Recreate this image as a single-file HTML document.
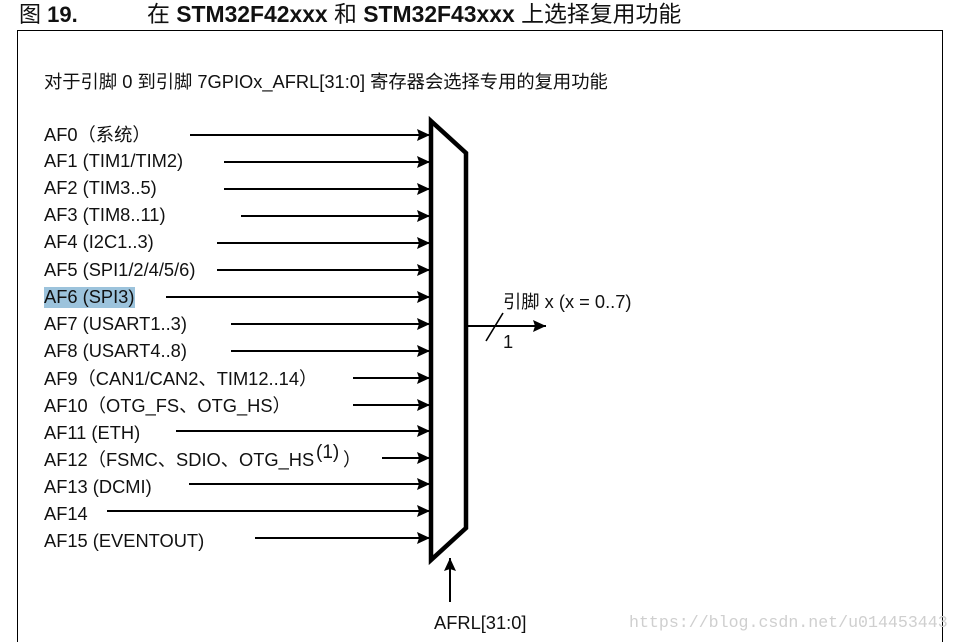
<!DOCTYPE html>
<html>
<head>
<meta charset="utf-8">
<style>
html,body{margin:0;padding:0;background:#fff;width:960px;height:642px;overflow:hidden}
svg{display:block}
text{font-family:"Liberation Sans","Noto Sans CJK SC",sans-serif;font-size:18.3px;fill:#111}
tspan.c{font-weight:normal}
</style>
</head>
<body>
<svg width="960" height="642" viewBox="0 0 960 642" xmlns="http://www.w3.org/2000/svg">
<defs>
<marker id="a" markerUnits="userSpaceOnUse" markerWidth="13" markerHeight="12" refX="13" refY="6" orient="auto"><path d="M0 0L13 6L0 12L2 6Z" fill="#000"/></marker>
</defs>
<path d="M17.5 642V30.5H942.5V642" fill="none" stroke="#000" stroke-width="1"/>
<text x="19" y="22" style="font-size:22px;font-weight:bold"><tspan class="c">图</tspan> 19.</text>
<text x="147" y="22" style="font-size:22.9px;font-weight:bold"><tspan class="c">在</tspan> STM32F42xxx <tspan class="c">和</tspan> STM32F43xxx <tspan class="c">上选择复用功能</tspan></text>
<text x="44" y="88">对于引脚 0 到引脚 7GPIOx_AFRL[31:0] 寄存器会选择专用的复用功能</text>
<rect x="44" y="287" width="91" height="21" fill="#9cc3dc"/>
<g stroke="#000" stroke-width="2">
<path d="M190 135H430" marker-end="url(#a)"/>
<path d="M224 162H430" marker-end="url(#a)"/>
<path d="M224 189H430" marker-end="url(#a)"/>
<path d="M241 216H430" marker-end="url(#a)"/>
<path d="M217 243H430" marker-end="url(#a)"/>
<path d="M217 270H430" marker-end="url(#a)"/>
<path d="M166 297H430" marker-end="url(#a)"/>
<path d="M231 324H430" marker-end="url(#a)"/>
<path d="M231 351H430" marker-end="url(#a)"/>
<path d="M353 378H430" marker-end="url(#a)"/>
<path d="M353 405H430" marker-end="url(#a)"/>
<path d="M176 431H430" marker-end="url(#a)"/>
<path d="M382 458H430" marker-end="url(#a)"/>
<path d="M189 484H430" marker-end="url(#a)"/>
<path d="M107 511H430" marker-end="url(#a)"/>
<path d="M255 538H430" marker-end="url(#a)"/>
<path d="M468 326H546" marker-end="url(#a)"/>
<path d="M450 602V558" marker-end="url(#a)"/>
</g>
<path d="M486 341L503 313" stroke="#000" stroke-width="1.6" fill="none"/>
<path d="M431 121L466 153V528L431 560Z" fill="#fff" stroke="#000" stroke-width="4.5"/>
<text x="44" y="141">AF0（系统）</text>
<text x="44" y="167">AF1 (TIM1/TIM2)</text>
<text x="44" y="194">AF2 (TIM3..5)</text>
<text x="44" y="221">AF3 (TIM8..11)</text>
<text x="44" y="248">AF4 (I2C1..3)</text>
<text x="44" y="276">AF5 (SPI1/2/4/5/6)</text>
<text x="44" y="303">AF6 (SPI3)</text>
<text x="44" y="330">AF7 (USART1..3)</text>
<text x="44" y="357">AF8 (USART4..8)</text>
<text x="44" y="385">AF9（CAN1/CAN2、TIM12..14）</text>
<text x="44" y="412">AF10（OTG_FS、OTG_HS）</text>
<text x="44" y="439">AF11 (ETH)</text>
<text x="44" y="466">AF12（FSMC、SDIO、OTG_HS</text>
<text x="316" y="458" style="font-size:19px">(1)</text>
<text x="343" y="466">）</text>
<text x="44" y="493">AF13 (DCMI)</text>
<text x="44" y="520">AF14</text>
<text x="44" y="547">AF15 (EVENTOUT)</text>
<text x="503" y="308">引脚 x (x = 0..7)</text>
<text x="503" y="348">1</text>
<text x="434" y="629">AFRL[31:0]</text>
<text x="629" y="627" style="font-family:'Liberation Mono',monospace;font-size:16.6px;fill:#cfcfcf">https://blog.csdn.net/u014453443</text>
</svg>
</body>
</html>
